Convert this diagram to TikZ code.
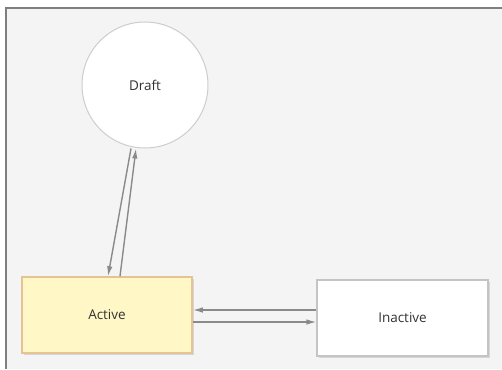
\documentclass[tikz,border=0pt]{standalone}
\usepackage{fontspec}
\setmainfont{Open Sans}
\usetikzlibrary{arrows.meta,shadows}
\definecolor{panel}{HTML}{F4F4F4}
\definecolor{frameline}{HTML}{7F7F7F}
\definecolor{linkgray}{HTML}{8A8A8A}
\definecolor{textgray}{HTML}{333333}
\definecolor{activefill}{HTML}{FFF7C6}
\definecolor{activeedge}{HTML}{E6C393}
\definecolor{boxedge}{HTML}{C4C4C4}
\tikzset{
  label text/.style={text=textgray, font=\fontsize{13.5}{16}\selectfont},
  statebox/.style={label text, rectangle, draw=boxedge, fill=white, line width=1.2pt,
    minimum height=76pt,
    drop shadow={shadow xshift=1.5pt, shadow yshift=-1.5pt, fill=black, opacity=0.12}},
  statecircle/.style={label text, circle, draw=boxedge!85, fill=white, line width=1pt,
    minimum size=126pt, inner sep=0pt},
  link/.style={draw=linkgray, line width=1.4pt, -{Latex[length=10pt,width=5.5pt]}}
}
\begin{document}
\begin{tikzpicture}[x=1pt,y=-1pt]
  \useasboundingbox (0,0) rectangle (502,369);
  \fill[white] (0,0) rectangle (502,369);
  \fill[panel] (6,8) rectangle (502,369);
  \draw[frameline, line width=2pt] (6,369) -- (6,8) -- (502,8);

  \node[statecircle] (draft) at (145,85) {Draft};
  \node[statebox, minimum width=170pt, fill=activefill, draw=activeedge, line width=1.5pt] (active) at (107,315) {Active};
  \node[statebox, minimum width=171pt] (inactive) at (402.5,318) {Inactive};

  \draw[link] ([xshift=-14pt]draft.south) -- ([xshift=1pt]active.north);
  \draw[link] ([xshift=13pt]active.north) -- ([xshift=-9pt]draft.south);
  \draw[link] (inactive.west |- {(0,310)}) -- (active.east |- {(0,310)});
  \draw[link] (active.east |- {(0,322)}) -- (inactive.west |- {(0,322)});
\end{tikzpicture}
\end{document}
